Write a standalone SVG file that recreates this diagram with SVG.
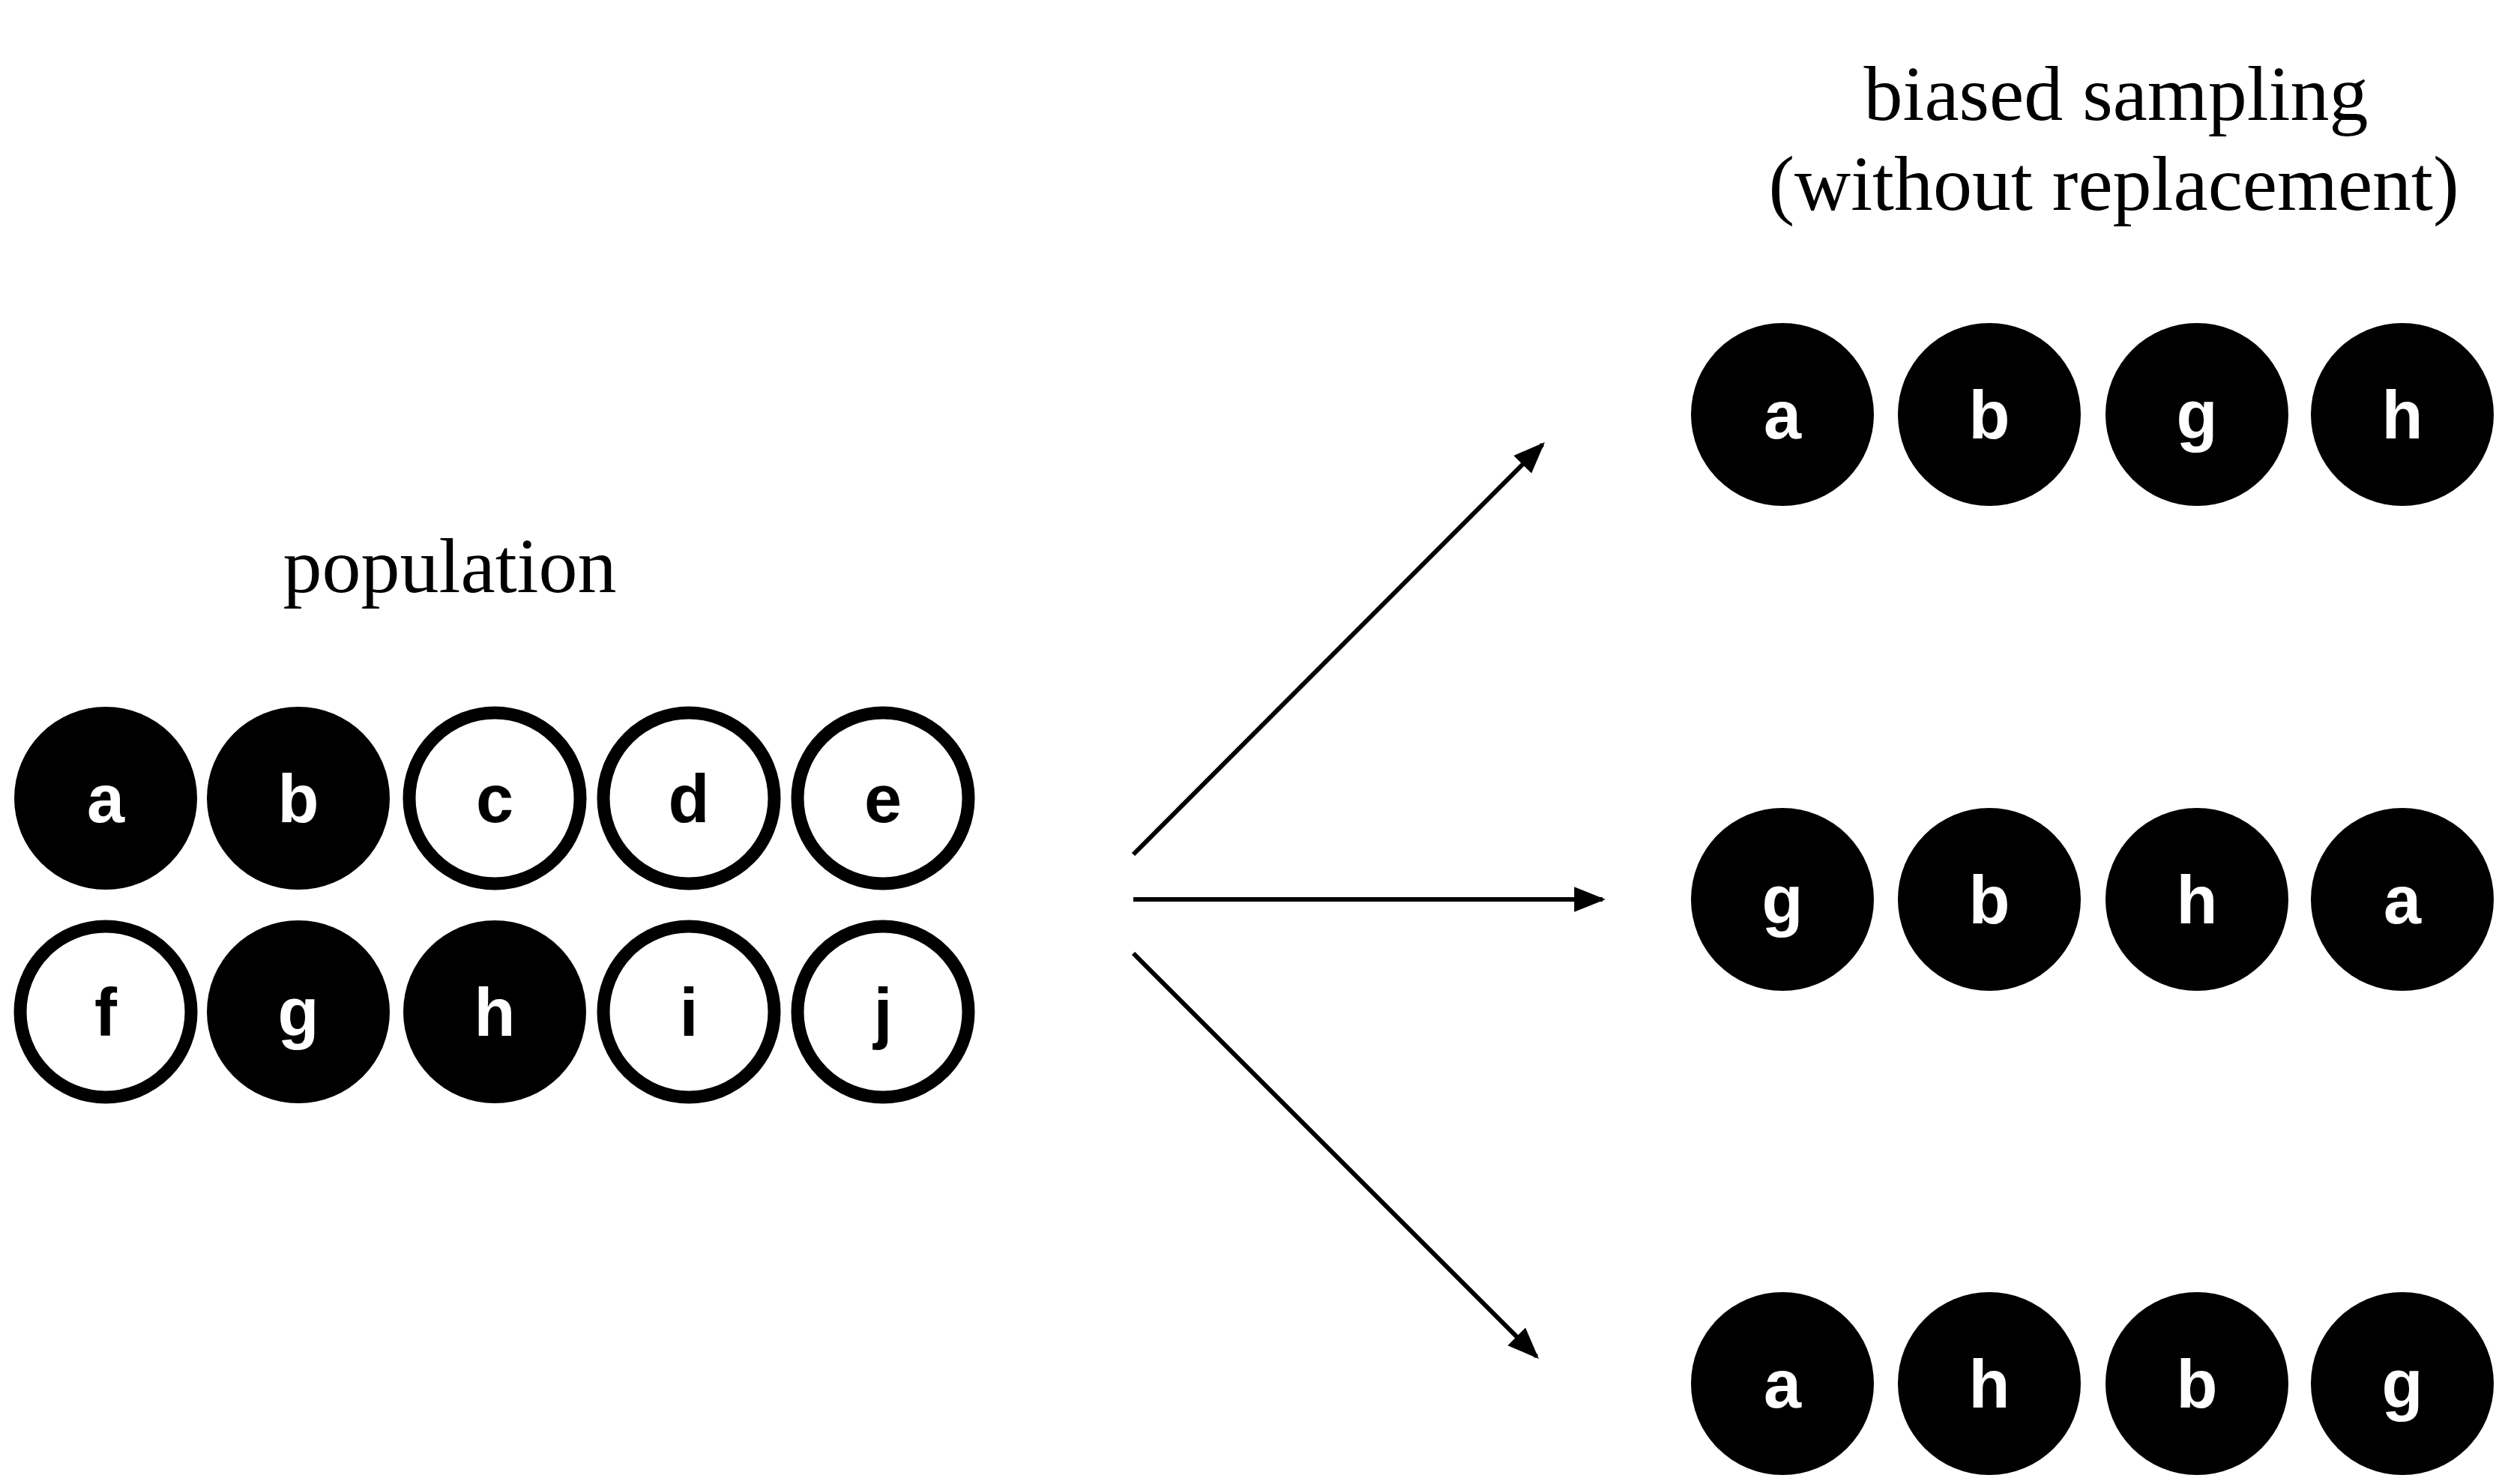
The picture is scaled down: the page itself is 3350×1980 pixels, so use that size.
<svg xmlns="http://www.w3.org/2000/svg" width="3350" height="1980" viewBox="0 0 3350 1980">
<style>
.f{fill:#000}
.o{fill:#fff;stroke:#000;stroke-width:17}
.lw{font-family:"Liberation Sans",Arial,sans-serif;font-weight:bold;font-size:90px;fill:#fff;text-anchor:middle}
.lb{font-family:"Liberation Sans",Arial,sans-serif;font-weight:bold;font-size:90px;fill:#000;text-anchor:middle}
.t{font-family:"Liberation Serif","Times New Roman",serif;font-size:104px;fill:#000;text-anchor:middle}
.c{stroke:#000;stroke-width:6;fill:none;marker-end:url(#ah)}
</style>
<defs><marker id="ah" viewBox="0 0 10 10" refX="9" refY="5" markerWidth="7" markerHeight="7" orient="auto" markerUnits="strokeWidth"><path d="M0,1 L10,5 L0,9 Z" fill="#000"/></marker></defs>
<rect width="3350" height="1980" fill="#fff"/>
<text class="t" x="600" y="790">population</text>
<text class="t" x="2823" y="160">biased sampling</text>
<text class="t" x="2820" y="280">(without replacement)</text>
<g id="pa"><circle class="f" cx="141" cy="1065" r="122"/><text class="lw" x="141" y="1097">a</text></g>
<g id="pb"><circle class="f" cx="398" cy="1065" r="122"/><text class="lw" x="398" y="1097">b</text></g>
<g id="pc"><circle class="o" cx="660" cy="1065" r="114"/><text class="lb" x="660" y="1097">c</text></g>
<g id="pd"><circle class="o" cx="919" cy="1065" r="114"/><text class="lb" x="919" y="1097">d</text></g>
<g id="pe"><circle class="o" cx="1178" cy="1065" r="114"/><text class="lb" x="1178" y="1097">e</text></g>
<g id="pf"><circle class="o" cx="141" cy="1350" r="114"/><text class="lb" x="141" y="1382">f</text></g>
<g id="pg"><circle class="f" cx="398" cy="1350" r="122"/><text class="lw" x="398" y="1382">g</text></g>
<g id="ph"><circle class="f" cx="660" cy="1350" r="122"/><text class="lw" x="660" y="1382">h</text></g>
<g id="pi"><circle class="o" cx="919" cy="1350" r="114"/><text class="lb" x="919" y="1382">i</text></g>
<g id="pj"><circle class="o" cx="1178" cy="1350" r="114"/><text class="lb" x="1178" y="1382">j</text></g>
<g id="s1a"><circle class="f" cx="2378" cy="553" r="122"/><text class="lw" x="2378" y="585">a</text></g>
<g id="s1b"><circle class="f" cx="2654" cy="553" r="122"/><text class="lw" x="2654" y="585">b</text></g>
<g id="s1g"><circle class="f" cx="2931" cy="553" r="122"/><text class="lw" x="2931" y="585">g</text></g>
<g id="s1h"><circle class="f" cx="3205" cy="553" r="122"/><text class="lw" x="3205" y="585">h</text></g>
<g id="s2g"><circle class="f" cx="2378" cy="1200" r="122"/><text class="lw" x="2378" y="1232">g</text></g>
<g id="s2b"><circle class="f" cx="2654" cy="1200" r="122"/><text class="lw" x="2654" y="1232">b</text></g>
<g id="s2h"><circle class="f" cx="2931" cy="1200" r="122"/><text class="lw" x="2931" y="1232">h</text></g>
<g id="s2a"><circle class="f" cx="3205" cy="1200" r="122"/><text class="lw" x="3205" y="1232">a</text></g>
<g id="s3a"><circle class="f" cx="2378" cy="1846" r="122"/><text class="lw" x="2378" y="1878">a</text></g>
<g id="s3h"><circle class="f" cx="2654" cy="1846" r="122"/><text class="lw" x="2654" y="1878">h</text></g>
<g id="s3b"><circle class="f" cx="2931" cy="1846" r="122"/><text class="lw" x="2931" y="1878">b</text></g>
<g id="s3g"><circle class="f" cx="3205" cy="1846" r="122"/><text class="lw" x="3205" y="1878">g</text></g>
<g id="connectors">
<line class="c" x1="1512" y1="1140" x2="2058" y2="593"/>
<line class="c" x1="1512" y1="1200" x2="2138" y2="1200"/>
<line class="c" x1="1512" y1="1272" x2="2050" y2="1810"/>
</g>
</svg>
